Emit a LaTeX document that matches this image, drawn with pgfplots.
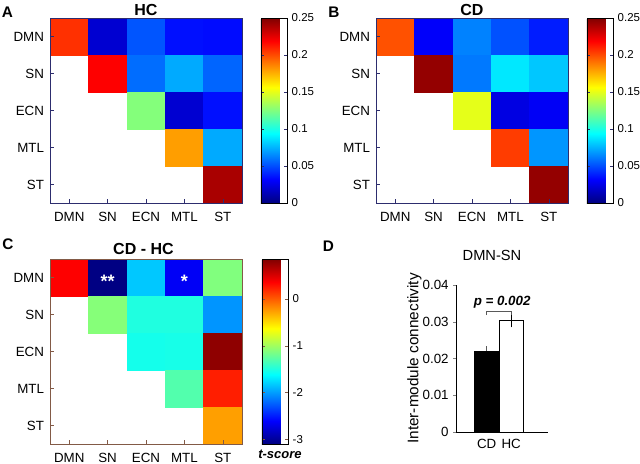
\documentclass[border=0pt]{standalone}
\usepackage{fontspec}
\setmainfont{Liberation Sans}
\usepackage{pgfplots}
\usepackage{pgfplotstable}
\pgfplotsset{compat=1.18}
\pgfkeys{/pgf/number format/assume math mode=true}

\definecolor{frameAB}{RGB}{45,45,110}
\definecolor{frameC}{RGB}{130,90,70}

% x = column (DMN..ST = 0..4), y = row (DMN = 4 ... ST = 0)
\pgfplotstableread{
x y c
0 4 0.207
1 4 0.020
2 4 0.052
3 4 0.035
4 4 0.034
1 3 0.219
2 3 0.058
3 3 0.073
4 3 0.056
2 2 0.126
3 2 0.020
4 2 0.035
3 1 0.180
4 1 0.073
4 0 0.240
}\hc

\pgfplotstableread{
x y c
0 4 0.199
1 4 0.030
2 4 0.063
3 4 0.051
4 4 0.038
1 3 0.245
2 3 0.061
3 3 0.088
4 3 0.080
2 2 0.150
3 2 0.024
4 2 0.029
3 1 0.204
4 1 0.068
4 0 0.245
}\cd

\pgfplotstableread{
x y c
0 4 0.36
1 4 -3.09
2 4 -1.83
3 4 -2.64
4 4 -1.12
1 3 -1.10
2 3 -1.50
3 3 -1.50
4 3 -2.03
2 2 -1.54
3 2 -1.53
4 2 0.79
3 1 -1.30
4 1 0.24
4 0 -0.26
}\diff

\pgfplotsset{
  heat/.style={
    scale only axis, width=144pt, height=138.75pt,
    xmin=-0.5, xmax=4.5, ymin=-0.5, ymax=4.5,
    xtick={0,...,4}, ytick={0,...,4},
    xticklabels={DMN,SN,ECN,MTL,ST},
    yticklabels={ST,MTL,ECN,SN,DMN},
    xtick pos=left, ytick pos=left,
    xticklabel shift=3.5pt, yticklabel shift=1pt,
    tick align=inside, major tick length=3pt,
    axis on top, clip marker paths=true,
    axis line style={#1}, tick style={#1},
    tick label style={font=\fontsize{10}{12}\selectfont},
    colormap/jet,
    colorbar,
  },
  cbar/.style={
    scale only axis, width=19.5pt, height=138.75pt,
    at={(parent axis.north east)}, anchor=north west,
    tick align=inside, major tick length=2pt,
    ytick pos=both, yticklabel pos=right,
    scaled y ticks=false,
    yticklabel style={font=\fontsize{8.6}{10}\selectfont,
      /pgf/number format/fixed, /pgf/number format/precision=2},
  },
  cell/.style={scatter, only marks, mark=square*, mark size=13.875pt,
    mark options={xscale=1.038}, point meta=explicit,
    scatter/use mapped color={draw=mapped color, fill=mapped color}},
}

\begin{document}
\begin{tikzpicture}
\useasboundingbox (0,0) rectangle (480pt,-348pt);

% A: HC
\begin{axis}[heat=frameAB, at={(37.5pt,-152.25pt)}, anchor=south west,
  point meta min=0, point meta max=0.25,
  colorbar shift/.style={xshift=14.25pt},
  colorbar style={cbar, ytick={0,0.05,0.1,0.15,0.2,0.25}}]
\addplot[cell] table[x=x, y=y, meta=c] {\hc};
\end{axis}

% B: CD
\begin{axis}[heat=frameAB, at={(282pt,-152.25pt)}, anchor=south west,
  point meta min=0, point meta max=0.25,
  colorbar shift/.style={xshift=14.25pt},
  colorbar style={cbar, ytick={0,0.05,0.1,0.15,0.2,0.25}}]
\addplot[cell] table[x=x, y=y, meta=c] {\cd};
\end{axis}

% C: CD - HC
\begin{axis}[heat=frameC, at={(37.5pt,-333pt)}, anchor=south west,
  point meta min=-3.1, point meta max=0.85,
  colorbar shift/.style={xshift=15pt},
  colorbar style={cbar, ytick={-3,-2,-1,0}}]
\addplot[cell] table[x=x, y=y, meta=c] {\diff};
\node[text=white, font=\bfseries\fontsize{13.5}{15}\selectfont, yshift=-2.5pt] at (axis cs:1,4) {**};
\node[text=white, font=\bfseries\fontsize{13.5}{15}\selectfont, yshift=-2.5pt] at (axis cs:3,4) {*};
\end{axis}

% D: DMN-SN bars
\begin{axis}[at={(342pt,-324pt)}, anchor=south west, scale only axis,
  width=69pt, height=110.25pt,
  xmin=-0.25, xmax=3.5, ymin=0, ymax=0.04,
  axis x line*=bottom, axis y line*=left,
  xtick={1,2}, xticklabels={CD,HC}, x tick style={draw=none},
  ytick={0,0.01,0.02,0.03,0.04}, scaled y ticks=false,
  yticklabel style={/pgf/number format/fixed, /pgf/number format/precision=2},
  tick label style={font=\fontsize{10}{12}\selectfont},
  tick align=outside, major tick length=2pt,
  ylabel={Inter-module connectivity}, ylabel shift=-6pt,
  ylabel style={font=\fontsize{11.5}{13}\selectfont},
]
\addplot[ybar, bar width=1, bar shift=0pt, fill=black, draw=black,
  error bars/.cd, y dir=plus, y explicit,
  error bar style={gray!70!black}, error mark options={mark size=1pt}]
  coordinates {(1,0.0220) +- (0,0.0010)};
\addplot[ybar, bar width=1, bar shift=0pt, fill=white, draw=black,
  error bars/.cd, y dir=both, y explicit,
  error bar style={black}, error mark options={mark size=1pt}]
  coordinates {(2,0.0303) +- (0,0.0015)};
\draw[gray!70!black, line width=0.5pt] (axis cs:1,0.0318) -- (axis cs:1,0.0327) -- (axis cs:2,0.0327) -- (axis cs:2,0.0319);
\node[font=\bfseries\itshape\fontsize{10}{12}\selectfont] at (axis cs:1.63,0.0354) {p = 0.002};
\end{axis}

% panel letters and titles
\node[font=\bfseries\fontsize{11.5}{13}\selectfont] at (5.6pt,-9.4pt) {A};
\node[font=\bfseries\fontsize{11.5}{13}\selectfont] at (250.5pt,-9.4pt) {B};
\node[font=\bfseries\fontsize{11.5}{13}\selectfont] at (6pt,-183pt) {C};
\node[font=\bfseries\fontsize{11.5}{13}\selectfont] at (246.4pt,-184.5pt) {D};
\node[font=\bfseries\fontsize{12}{14}\selectfont] at (109.5pt,-7.5pt) {HC};
\node[font=\bfseries\fontsize{12}{14}\selectfont] at (354pt,-7.5pt) {CD};
\node[font=\bfseries\fontsize{12}{14}\selectfont] at (107.6pt,-186.4pt) {CD - HC};
\node[font=\bfseries\itshape\fontsize{9.75}{11}\selectfont] at (210pt,-340.5pt) {t-score};
\node[font=\fontsize{11}{13}\selectfont] at (369pt,-191.25pt) {DMN-SN};
\end{tikzpicture}
\end{document}
